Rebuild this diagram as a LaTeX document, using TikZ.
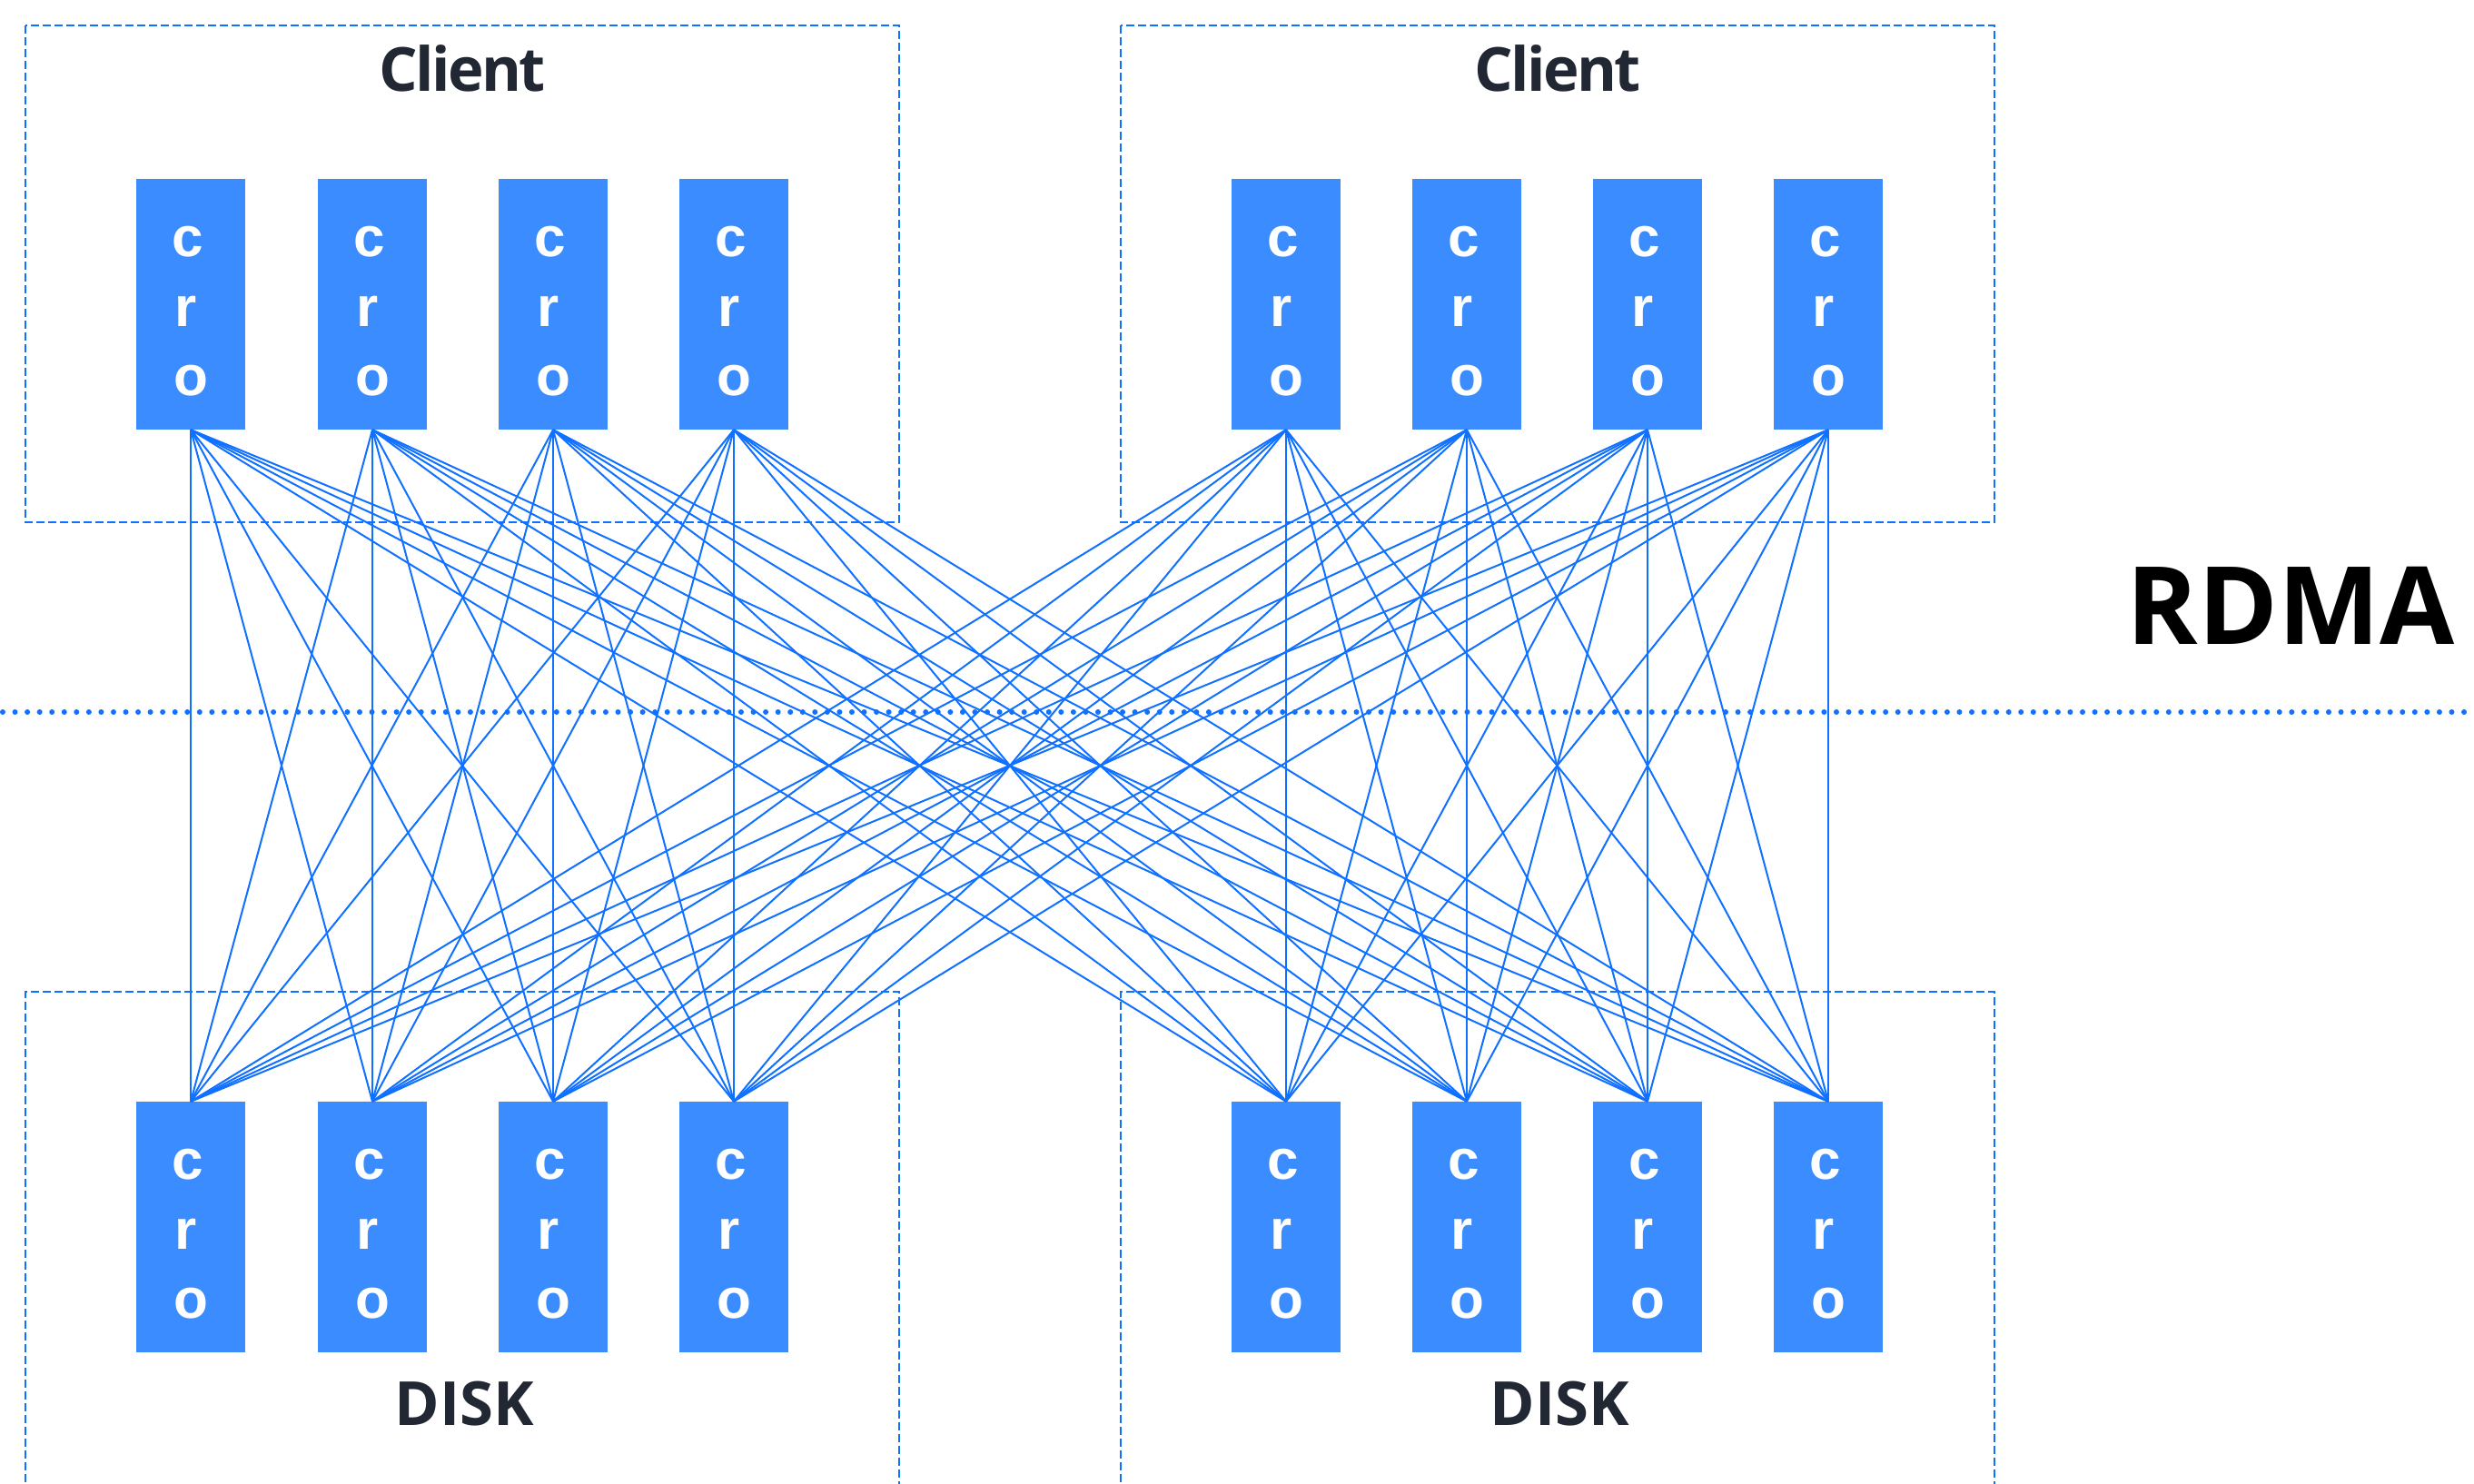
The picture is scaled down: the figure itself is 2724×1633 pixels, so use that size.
\documentclass[tikz,border=0pt]{standalone}
\usepackage{fontspec}
\setmainfont{Open Sans}
\newfontfamily\crofont{Liberation Sans}
\newfontfamily\clientfont[LetterSpace=-4]{Open Sans}
\usetikzlibrary{calc}
\definecolor{boxblue}{RGB}{58,140,255}
\definecolor{wireblue}{RGB}{16,112,255}
\definecolor{labelink}{RGB}{34,40,51}
\begin{document}
\begin{tikzpicture}[x=1pt,y=-1pt,
  unit/.style={fill=boxblue, minimum width=120pt, minimum height=276pt, inner sep=0pt},
  wire/.style={draw=wireblue, line width=2pt},
  frame/.style={draw=wireblue, line width=2pt, dash pattern=on 9pt off 4pt},
  heading/.style={font=\fontsize{67}{80}\selectfont\bfseries, text=labelink, anchor=base, inner sep=0pt},
  letter/.style={font=\crofont\fontsize{62}{74}\selectfont\bfseries, text=white, anchor=base, inner sep=0pt}]
\useasboundingbox (0,0) rectangle (2724,1633);

% group frames: clients on top, disks below (their lower edge runs off the page)
\draw[frame] (28,28) rectangle (990,575);
\draw[frame] (1234,28) rectangle (2196,575);
\draw[frame] (28,1645) -- (28,1092) -- (990,1092) -- (990,1645);
\draw[frame] (1234,1645) -- (1234,1092) -- (2196,1092) -- (2196,1645);

% RDMA boundary
\coordinate (dl) at (3,784);
\coordinate (dr) at (2724,784);
\draw[draw=wireblue, line width=6pt, line cap=round, dash pattern=on 0pt off 13.55pt] (dl) -- (dr);

% cro units
\foreach \i/\x in {1/210,2/410,3/609,4/808,5/1416,6/1615,7/1814,8/2013} {
  \node[unit] (t\i) at (\x,335) {};
  \node[unit] (b\i) at (\x,1351) {};
}
\foreach \n in {t1,t2,t3,t4,t5,t6,t7,t8,b1,b2,b3,b4,b5,b6,b7,b8} {
  \node[letter] (\n c) at ($(\n.north)+(-3,86)$) {c};
  \node[letter] (\n r) at ($(\n.north)+(-5,163)$) {r};
  \node[letter] (\n o) at ($(\n.north)+(0,239)$) {o};
}

% every client unit talks to every disk unit
\foreach \i in {1,...,8} {
  \foreach \j in {1,...,8} {
    \draw[wire] (t\i.south) -- (b\j.north);
  }
}

% labels
\node[heading, font=\clientfont\fontsize{67}{80}\selectfont\bfseries] (client1) at (509,100) {Client};
\node[heading, font=\clientfont\fontsize{67}{80}\selectfont\bfseries] (client2) at (1715,100) {Client};
\node[heading] (disk1) at (511,1569) {DISK};
\node[heading] (disk2) at (1717,1569) {DISK};
\node[font=\fontsize{119}{140}\selectfont\bfseries, text=black, anchor=base, inner sep=0pt] (rdma) at (2522,709) {RDMA};
\end{tikzpicture}
\end{document}
